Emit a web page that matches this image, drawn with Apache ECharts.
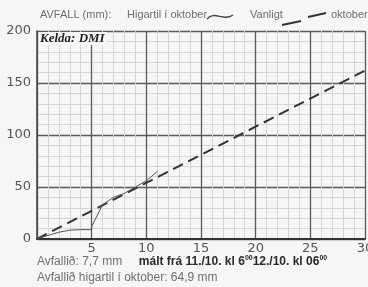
<!DOCTYPE html>
<html>
<head>
<meta charset="utf-8">
<script src="https://cdn.jsdelivr.net/npm/echarts@6/dist/echarts.min.js"></script>
<style>
  html, body { margin: 0; padding: 0; background: #f6f6f4; }
  #chart { width: 368px; height: 287px; }
</style>
</head>
<body>
<div id="chart"></div>
<script>
// dagar í oktober / avfall (mm) higartil
const dagar = [0, 1, 2, 3, 4, 5, 5, 6, 7, 8, 9, 10, 11];
const higartil = [0, 3.5, 6.5, 8.5, 9, 9, 12, 33, 40, 44, 50, 56, 64.9];
// vanligt oktober (beinleið)
const vanligtDagar = [0, 30];
const vanligt = [0, 162];

const xTicks = [0, 5, 10, 15, 20, 25, 30];
const yTicks = [0, 50, 100, 150, 200];

let chart = echarts.init(document.getElementById('chart'), null, { renderer: 'canvas' });

const greyTxt = '#6f6f6f';

let option = {
  backgroundColor: '#f6f6f4',
  animation: false,
  grid: { left: 37, right: 3, top: 31, bottom: 48, outerBoundsMode: 'none', containLabel: false },
  xAxis: {
    type: 'value',
    min: xTicks[0],
    max: xTicks[xTicks.length - 1],
    interval: 5,
    axisLine: { show: true, onZero: false, lineStyle: { color: '#333', width: 2 } },
    axisTick: { show: false },
    axisLabel: {
      color: '#555',
      fontFamily: 'DejaVu Sans',
      fontSize: 13,
      margin: 3,
      formatter: v => (v === 0 ? '' : v)
    },
    splitLine: { show: true, lineStyle: { color: '#5a5a5a', width: 1.3 } },
    minorTick: { show: false, splitNumber: 5 },
    minorSplitLine: { show: true, lineStyle: { color: '#d6d6d4', width: 1 } }
  },
  yAxis: {
    type: 'value',
    min: yTicks[0],
    max: yTicks[yTicks.length - 1],
    interval: 50,
    axisLine: { show: true, lineStyle: { color: '#444', width: 1.5 } },
    axisTick: { show: false },
    axisLabel: {
      color: '#555',
      fontFamily: 'DejaVu Sans',
      fontSize: 13,
      margin: 6
    },
    splitLine: { show: true, lineStyle: { color: '#5a5a5a', width: 1.3 } },
    minorTick: { show: false, splitNumber: 5 },
    minorSplitLine: { show: true, lineStyle: { color: '#d6d6d4', width: 1 } }
  },
  series: [
    {
      name: 'Vanligt',
      type: 'line',
      data: vanligtDagar.map((d, i) => [d, vanligt[i]]),
      symbol: 'none',
      lineStyle: { color: '#333', width: 2, type: [11, 6] },
      z: 3
    },
    {
      name: 'Higartil',
      type: 'line',
      data: dagar.map((d, i) => [d, higartil[i]]),
      symbol: 'none',
      smooth: false,
      lineStyle: { color: '#555', width: 1 },
      z: 4
    }
  ],
  graphic: [
    // tekstur ovast
    { type: 'text', left: 40, top: 9, style: { text: 'AVFALL (mm):', fill: greyTxt, font: '11px "Liberation Sans"' } },
    { type: 'text', left: 127, top: 9, style: { text: 'Higartil í oktober', fill: greyTxt, font: '11px "Liberation Sans"' } },
    { type: 'bezierCurve', shape: { x1: 207, y1: 19, cpx1: 214, cpy1: 10, cpx2: 224, cpy2: 22, x2: 233, y2: 15 },
      style: { stroke: '#444', lineWidth: 1.3, fill: null } },
    { type: 'text', left: 250, top: 9, style: { text: 'Vanligt', fill: greyTxt, font: '11px "Liberation Sans"' } },
    { type: 'line', shape: { x1: 282, y1: 25, x2: 301, y2: 21 }, style: { stroke: '#333', lineWidth: 2 } },
    { type: 'line', shape: { x1: 308, y1: 17, x2: 326, y2: 13 }, style: { stroke: '#333', lineWidth: 2 } },
    { type: 'text', left: 331, top: 9, style: { text: 'oktober', fill: greyTxt, font: '11px "Liberation Sans"' } },
    // kelda
    { type: 'text', left: 39, top: 32, z: 10,
      style: { text: 'Kelda: DMI', fill: '#222', font: 'italic bold 13px "Liberation Serif"',
               backgroundColor: '#f6f6f4', padding: [0, 2, 0, 1] } },
    // tekstur niðast
    { type: 'text', left: 37, top: 255,
      style: {
        text: '{g|Avfallið: 7,7 mm}     {b|mált frá 11./10. kl 6}{s|00}{b|12./10. kl 06}{s|00}',
        rich: {
          g: { fill: greyTxt, font: '12px "Liberation Sans"' },
          b: { fill: '#2a2a2a', font: 'bold 12px "Liberation Sans"' },
          s: { fill: '#2a2a2a', font: 'bold 7px "Liberation Sans"', verticalAlign: 'top', padding: [0, 0, 6, 0] }
        }
      } },
    { type: 'text', left: 37, top: 272,
      style: { text: 'Avfallið higartil í oktober: 64,9 mm', fill: greyTxt, font: '12px "Liberation Sans"' } }
  ]
};

chart.setOption(option);
</script>
</body>
</html>
